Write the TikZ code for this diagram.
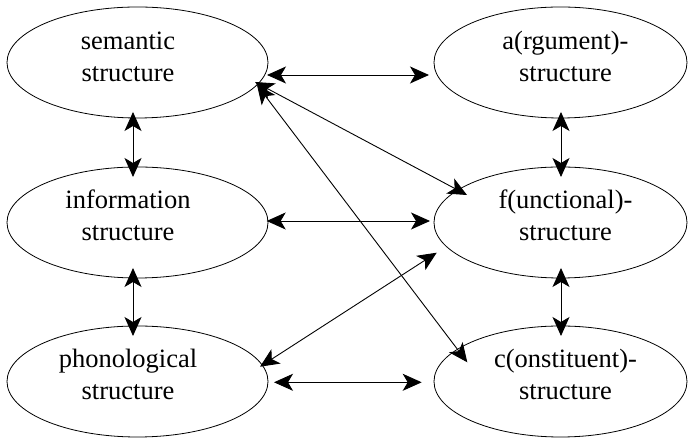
\documentclass[tikz,border=0pt]{standalone}
\usepackage{fontspec}
\setmainfont{Liberation Serif}
\usetikzlibrary{shapes.geometric,arrows.meta,calc}
\begin{document}
\begin{tikzpicture}[x=1pt,y=1pt,
  ellL/.style={ellipse,draw,line width=0.8pt,minimum width=261pt,minimum height=111pt,inner sep=0pt},
  ellR/.style={ellipse,draw,line width=0.8pt,minimum width=253pt,minimum height=111pt,inner sep=0pt},
  lbl/.style={font=\fontsize{26.5}{32}\selectfont,align=center,inner sep=0pt},
  conn/.style={line width=0.9pt,{Stealth[length=19pt,width=17pt,inset=5pt]}-{Stealth[length=19pt,width=17pt,inset=5pt]}}]
\useasboundingbox (0,0) rectangle (688,438);
% ellipses
\node[ellL] (sem)  at (137.5,375.5) {};
\node[ellL] (info) at (137.5,215.5) {};
\node[ellL] (phon) at (137.5,56.5) {};
\node[ellR] (arg)  at (560.5,375.5) {};
\node[ellR] (fs)   at (560.5,215.5) {};
\node[ellR] (cs)   at (560.5,56.5) {};
% labels
\node[lbl] (semT)  at ($(sem.center)+(-9.5,6)$) {semantic\\structure};
\node[lbl] (infoT) at ($(info.center)+(-9.5,7)$) {information\\structure};
\node[lbl] (phonT) at ($(phon.center)+(-9.5,7)$) {phonological\\structure};
\node[lbl] (argT)  at ($(arg.center)+(5,6)$) {a(rgument)-\\structure};
\node[lbl] (fsT)   at ($(fs.center)+(5,7)$) {f(unctional)-\\structure};
\node[lbl] (csT)   at ($(cs.center)+(5,7)$) {c(onstituent)-\\structure};
% connectors
\draw[conn] ([shift={(129.5,-12.5)}]sem.center) -- ([shift={(-131.5,-12.5)}]arg.center);
\draw[conn] ([shift={(-4.5,-49.5)}]sem.center) -- ([shift={(-4.5,45.5)}]info.center);
\draw[conn] ([shift={(-4.5,-45.5)}]info.center) -- ([shift={(-4.5,45.5)}]phon.center);
\draw[conn] ([shift={(0.5,-49.5)}]arg.center) -- ([shift={(0.5,45.5)}]fs.center);
\draw[conn] ([shift={(0.5,-45.5)}]fs.center) -- ([shift={(0.5,45.5)}]cs.center);
\draw[conn] ([shift={(129.2,1.5)}]info.center) -- ([shift={(-130.5,1.5)}]fs.center);
\draw[conn] ([shift={(136.5,-0.8)}]phon.center) -- ([shift={(-138.8,-0.8)}]cs.center);
\draw[conn] ([shift={(117.5,-19.5)}]sem.center) -- ([shift={(-93.5,27.5)}]fs.center);
\draw[conn] ([shift={(119.5,-22.5)}]sem.center) -- ([shift={(-93.2,19.2)}]cs.center);
\draw[conn] ([shift={(122.5,14.8)}]phon.center) -- ([shift={(-123.8,-30.2)}]fs.center);
\end{tikzpicture}
\end{document}
